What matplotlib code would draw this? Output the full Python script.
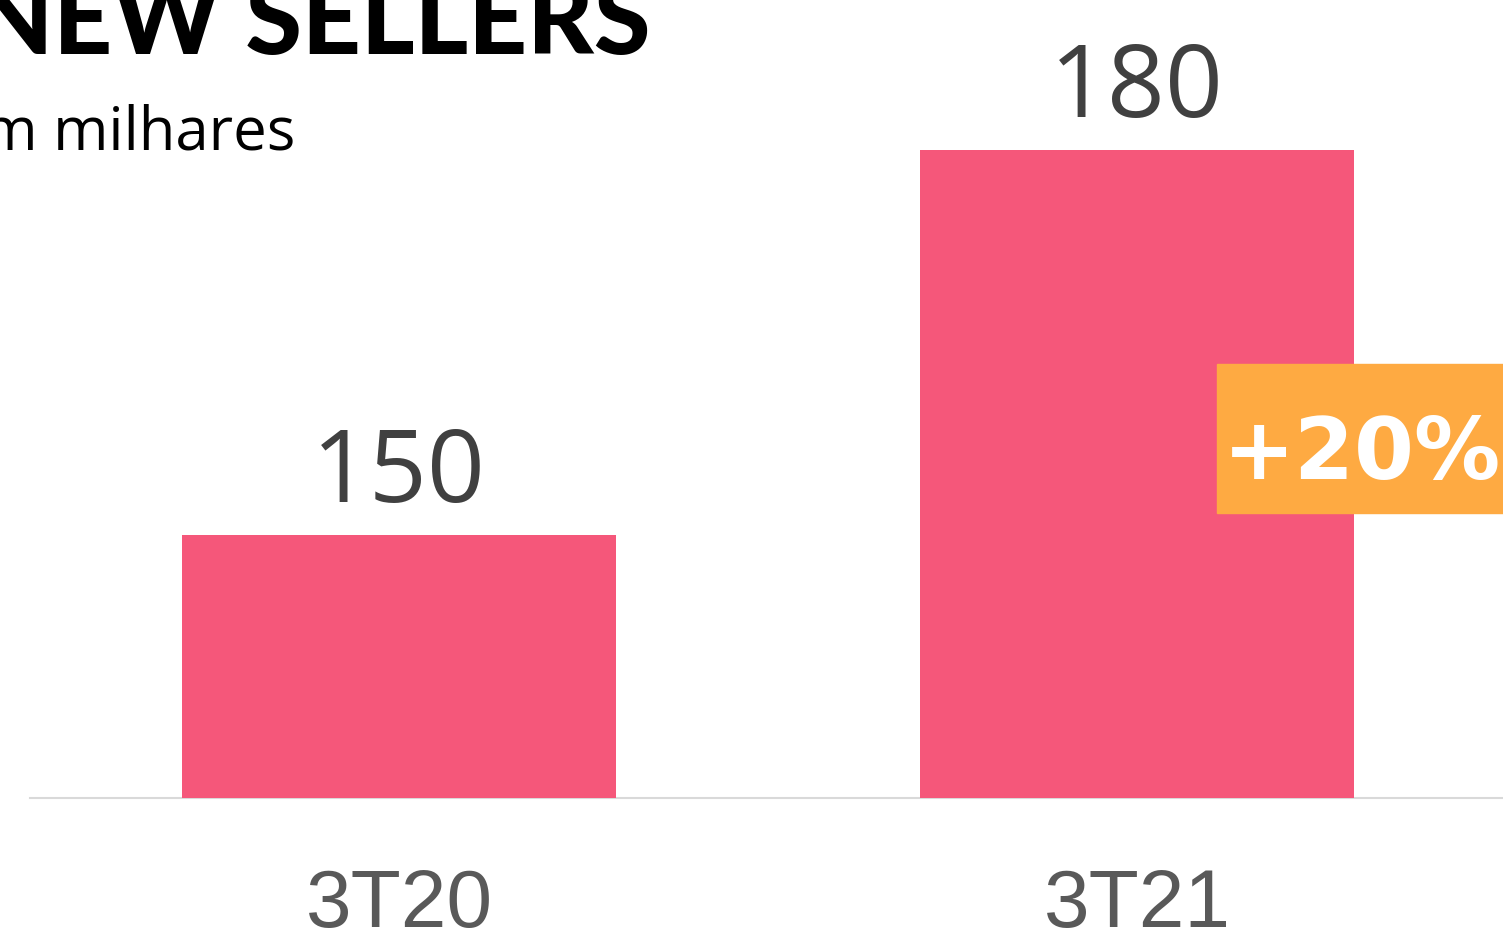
import matplotlib.pyplot as plt
from matplotlib.patches import Rectangle

# New sellers, in thousands
categories = ["3T20", "3T21"]
values = [150, 180]
growth_label = "+20%"
title = "NEW SELLERS"
subtitle = "Em milhares"

bar_color = "#F5577A"
badge_color = "#FEAA42"

W, H = 1503, 938
fig = plt.figure(figsize=(W / 100, H / 100), dpi=100)
ax = fig.add_axes([0, 0, 1, 1])

# axis does not start at zero in the original
base = 129.5
px_per_unit = 12.83
ax.set_ylim(base - (H - 798) / px_per_unit, base + 798 / px_per_unit)
ax.set_xlim(-399 / 738, 1 + (W - 1137) / 738)

x = list(range(len(categories)))
heights = [v - base for v in values]
ax.bar(x, heights, bottom=base, width=0.588, color=bar_color, zorder=2)

# baseline
ax.plot([-0.5, 2], [base, base], color="#D9D9D9", lw=1.5, zorder=1, clip_on=False)

for xi, v, cat in zip(x, values, categories):
    ax.annotate(str(v), (xi, v), xytext=(0, 24), textcoords="offset points",
                ha="center", va="baseline", fontsize=73, color="#404040",
                family="Open Sans")
    ax.annotate(cat, (xi, base), xytext=(0, -93), textcoords="offset points",
                ha="center", va="baseline", fontsize=59, color="#595959",
                family="Liberation Sans")

# growth badge
ax.add_patch(Rectangle((1217 / W, 1 - 513 / H), 1, 149 / H, transform=ax.transAxes,
                       color=badge_color, zorder=3, clip_on=False))
ax.text(1362 / W, 1 - 479 / H, growth_label, transform=ax.transAxes, ha="center",
        va="baseline", fontsize=62, fontweight="bold", color="white",
        family="DejaVu Sans", zorder=4)

# title (cropped at the top left in the original)
ax.text(650 / W, 1 - 54 / H, title, transform=ax.transAxes, ha="right",
        va="baseline", fontsize=74, fontweight="black", color="black", family="Lato")
ax.text(295 / W, 1 - 150 / H, subtitle, transform=ax.transAxes, ha="right",
        va="baseline", fontsize=43, color="black", family="Open Sans")

ax.axis("off")
fig.savefig("out.png", dpi=100)
